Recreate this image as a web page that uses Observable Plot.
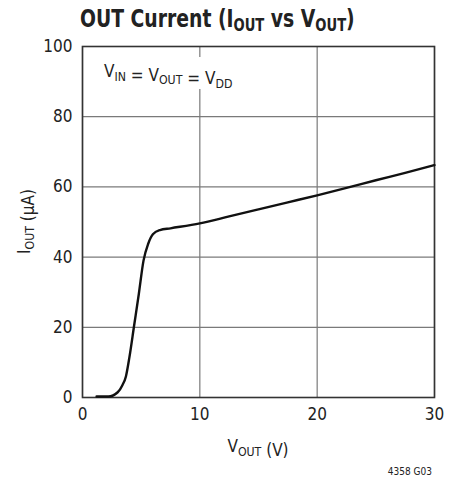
<!DOCTYPE html>
<html>
<head>
<meta charset="utf-8">
<script src="https://cdn.jsdelivr.net/npm/d3@7"></script>
<script src="https://cdn.jsdelivr.net/npm/@observablehq/plot@0.6"></script>
<style>
  html, body { margin: 0; padding: 0; background: #fff; }
  body { width: 461px; height: 485px; position: relative; overflow: hidden;
         font-family: "Liberation Sans Narrow", "DejaVu Sans Condensed", "Roboto", sans-serif; color: #222; }
  #title { position: absolute; left: 80px; top: 0; height: 30px; font-weight: bold; font-size: 24px; line-height: 1; padding-top: 7px; box-sizing: border-box; white-space: nowrap; transform: scaleX(0.87); transform-origin: 0 0; z-index: 2; }
  #title sub { font-size: 0.7em; vertical-align: -0.25em; }
  #chart { position: absolute; left: 0; top: 30px; z-index: 1; }
</style>
</head>
<body>
<div id="title">OUT Current (I<sub>OUT</sub> vs V<sub>OUT</sub>)</div>
<div id="chart"></div>
<script>
// Data
const vout = [1.2, 2.2, 3.0, 3.4, 3.7, 4.0, 4.4, 4.8, 5.2, 5.6, 6.0, 6.6, 7.5, 10, 12.5, 15, 17.5, 20, 22.5, 25, 27.5, 30];
const iout = [0.3, 0.3, 1.5, 3.5, 6.0, 11.5, 20.5, 29.5, 39.0, 43.8, 46.5, 47.7, 48.2, 49.6, 51.6, 53.6, 55.6, 57.6, 59.7, 61.9, 64.0, 66.2];
const xTicks = [0, 10, 20, 30];
const yTicks = [0, 20, 40, 60, 80, 100];
const caption = "4358 G03";

const data = vout.map((v, i) => ({v, i: iout[i]}));
const font = `"Liberation Sans Narrow", "DejaVu Sans Condensed", "Roboto", sans-serif`;

const plot = Plot.plot({
  width: 461,
  height: 455,
  marginLeft: 82,
  marginRight: 27,
  marginTop: 16,
  marginBottom: 88,
  style: {fontFamily: font, fontSize: "17px", color: "#222", background: "transparent"},
  x: {domain: [0, 30]},
  y: {domain: [0, 100]},
  marks: [
    Plot.gridX(xTicks, {stroke: "#7a7a7a", strokeOpacity: 1, strokeWidth: 1.2}),
    Plot.gridY(yTicks, {stroke: "#7a7a7a", strokeOpacity: 1, strokeWidth: 1.2}),
    Plot.axisX(xTicks, {tickSize: 0, tickPadding: 10, label: null, fontSize: 17}),
    Plot.axisY(yTicks, {tickSize: 0, tickPadding: 10, label: null, fontSize: 17}),
    Plot.frame({stroke: "#333", strokeWidth: 1.6}),
    Plot.line(data, {x: "v", y: "i", curve: "monotone-x", stroke: "#111", strokeWidth: 2.4})
  ]
});
document.getElementById("chart").appendChild(plot);

const svg = d3.select(plot);
const sx = plot.scale("x"), sy = plot.scale("y");

function subText(g, parts) {
  parts.forEach(([t, sub]) => {
    if (sub) {
      g.append("tspan").attr("font-size", "0.72em").attr("dy", "0.3em").text(t);
      g.append("tspan").attr("font-size", "1em").attr("dy", "-0.3em").text("");
    } else {
      g.append("tspan").text(t);
    }
  });
}

// annotation with white background
const ax = sx.apply(0) + 22, ay = sy.apply(100) + 31;
svg.append("rect").attr("x", ax - 5).attr("y", ay - 20).attr("width", 140).attr("height", 32).attr("fill", "#fff");
const ann = svg.append("text").attr("x", ax).attr("y", ay).attr("text-anchor", "start")
  .attr("font-size", 17).attr("fill", "#222");
subText(ann, [["V"], ["IN", 1], [" = V"], ["OUT", 1], [" = V"], ["DD", 1]]);

// x label
const xl = svg.append("text").attr("x", (sx.apply(0) + sx.apply(30)) / 2).attr("y", 422)
  .attr("text-anchor", "middle").attr("font-size", 17).attr("fill", "#222");
subText(xl, [["V"], ["OUT", 1], [" (V)"]]);

// y label
const yl = svg.append("text")
  .attr("transform", `translate(30,${(sy.apply(0) + sy.apply(100)) / 2}) rotate(-90)`)
  .attr("text-anchor", "middle").attr("font-size", 17).attr("fill", "#222");
subText(yl, [["I"], ["OUT", 1], [" (µA)"]]);

// caption
svg.append("text").attr("x", 432).attr("y", 445).attr("text-anchor", "end")
  .attr("font-size", 10).attr("fill", "#222").text(caption);
</script>
</body>
</html>
